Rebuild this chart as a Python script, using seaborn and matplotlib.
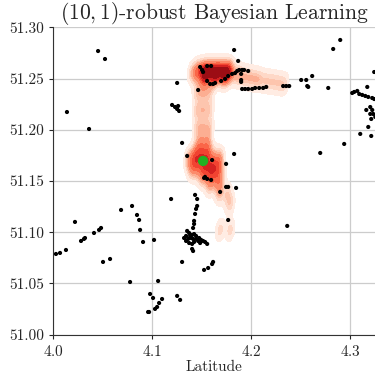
import numpy as np
import pandas as pd
import seaborn as sns
import matplotlib.pyplot as plt

obs_lon = [4.0455, 4.0525, 4.0141, 4.0364, 4.0222, 4.0687, 4.0798, 4.0414, 4.0465, 4.0485,
           4.0283, 4.0313, 4.0323, 4.0030, 4.0071, 4.0131, 4.0505, 4.0576, 4.0778, 4.0848,
           4.0869, 4.0879, 4.0909, 4.1020, 4.1192,
           4.1434, 4.1455, 4.1455, 4.1444, 4.1434, 4.1424, 4.1424, 4.1414,
           4.1354, 4.1374, 4.1343, 4.1384, 4.1404, 4.1424, 4.1444, 4.1323, 4.1364, 4.1394,
           4.1414, 4.1444, 4.1475, 4.1495, 4.1515, 4.1535, 4.1465, 4.1424, 4.1343, 4.1374,
           4.1404, 4.1556, 4.1485,
           4.1303, 4.1404, 4.1414, 4.1525, 4.1566, 4.1616, 4.1606,
           4.1061, 4.0980, 4.1010, 4.1101, 4.1071, 4.1051, 4.1030, 4.0970, 4.0960, 4.1253, 4.1283,
           4.1485, 4.1505, 4.1556, 4.1596, 4.1515, 4.1253, 4.1465, 4.1556, 4.1586, 4.1616,
           4.1202, 4.1232, 4.1253, 4.1273, 4.1263,
           4.1303, 4.1354, 4.1606, 4.1535, 4.1556, 4.1525, 4.1596, 4.1747, 4.1828, 4.1747,
           4.1768, 4.1848, 4.1687, 4.1768, 4.2364,
           4.1636, 4.1697, 4.1737, 4.1768, 4.1808, 4.1838, 4.1859, 4.1879, 4.1909, 4.1929,
           4.1899, 4.1899, 4.1899, 4.1970, 4.1828, 4.1869,
           4.1909, 4.1939, 4.1970, 4.2010, 4.2040, 4.2081, 4.2121, 4.2152, 4.2323, 4.2354, 4.2384,
           4.2505, 4.2556, 4.2616, 4.2566, 4.2576, 4.2778, 4.2828, 4.2899, 4.3242, 4.3172,
           4.3020, 4.3040, 4.3071, 4.3091, 4.3121, 4.3152, 4.3182, 4.3222, 4.3242,
           4.3202, 4.3222, 4.3232, 4.3202, 4.3162, 4.3253, 4.3212, 4.3182, 4.3101, 4.3212,
           4.2939, 4.2697]
obs_lat = [51.2770, 51.2692, 51.2174, 51.2008, 51.1100, 51.1217, 51.1256, 51.0992, 51.1022, 51.1041,
           51.0914, 51.0934, 51.0943, 51.0787, 51.0797, 51.0826, 51.0709, 51.0738, 51.0513, 51.1168,
           51.1119, 51.1022, 51.0904, 51.0924, 51.1324,
           51.1364, 51.1324, 51.1256, 51.1227, 51.1178, 51.1110, 51.1080, 51.1041,
           51.1012, 51.0992, 51.0963, 51.0963, 51.0973, 51.0982, 51.0963, 51.0943, 51.0934, 51.0943,
           51.0934, 51.0934, 51.0943, 51.0924, 51.0914, 51.0904, 51.0914, 51.0904, 51.0914, 51.0894,
           51.0885, 51.0885, 51.0894,
           51.0709, 51.0836, 51.0816, 51.0631, 51.0650, 51.0709, 51.0689,
           51.0523, 51.0396, 51.0357, 51.0347, 51.0308, 51.0269, 51.0250, 51.0220, 51.0220, 51.0377, 51.0338,
           51.2614, 51.2585, 51.2624, 51.2624, 51.2565, 51.2458, 51.2389, 51.2477, 51.2448, 51.2448,
           51.2243, 51.2223, 51.2204, 51.2184, 51.2233,
           51.1872, 51.1745, 51.1705, 51.1540, 51.1520, 51.1530, 51.1510, 51.1667, 51.1764, 51.1442,
           51.1442, 51.1432, 51.1393, 51.1119, 51.1061,
           51.2458, 51.2477, 51.2497, 51.2526, 51.2546, 51.2555, 51.2575, 51.2585, 51.2585, 51.2585,
           51.2546, 51.2487, 51.2468, 51.2575, 51.2780, 51.2673,
           51.2399, 51.2399, 51.2399, 51.2399, 51.2409, 51.2409, 51.2409, 51.2419, 51.2428, 51.2428, 51.2428,
           51.2487, 51.2487, 51.2526, 51.2428, 51.2419, 51.2409, 51.2790, 51.2878, 51.2565, 51.2419,
           51.2360, 51.2370, 51.2380, 51.2350, 51.2341, 51.2331, 51.2321, 51.2311, 51.2301,
           51.2223, 51.2194, 51.2155, 51.2155, 51.2194, 51.2126, 51.2106, 51.2028, 51.1960, 51.1940,
           51.1862, 51.1774]

# posterior samples behind the red density (ridge, column, main blob, faint blob)
post_lon = [4.1465, 4.1515, 4.1566, 4.1616, 4.1667, 4.1717, 4.1768,
            4.1444, 4.1495, 4.1545, 4.1596, 4.1646, 4.1697, 4.1747, 4.1798, 4.1848,
            4.1535, 4.1596, 4.1657, 4.1717, 4.1778,
            4.1889, 4.1939, 4.1990, 4.2040, 4.2091, 4.2152, 4.2212, 4.2273, 4.2333,
            4.1404,
            4.1535, 4.1636, 4.1737,
            4.1455, 4.1515, 4.1576, 4.1455, 4.1515, 4.1576, 4.1455, 4.1515, 4.1576,
            4.1485, 4.1556,
            4.1444, 4.1505, 4.1566,
            4.1374, 4.1434, 4.1495, 4.1556, 4.1616, 4.1677,
            4.1384, 4.1444, 4.1505, 4.1566, 4.1626, 4.1687,
            4.1414, 4.1475, 4.1535, 4.1596, 4.1657,
            4.1515, 4.1576, 4.1636, 4.1697,
            4.1586, 4.1667,
            4.1687, 4.1758,
            4.1788,
            4.1687, 4.1788]
post_lat = [51.2594, 51.2594, 51.2594, 51.2594, 51.2594, 51.2594, 51.2594,
            51.2546, 51.2546, 51.2546, 51.2546, 51.2546, 51.2546, 51.2546, 51.2546, 51.2546,
            51.2570, 51.2570, 51.2570, 51.2570, 51.2570,
            51.2526, 51.2516, 51.2507, 51.2497, 51.2487, 51.2477, 51.2468, 51.2458, 51.2448,
            51.2565,
            51.2497, 51.2497, 51.2497,
            51.2370, 51.2370, 51.2370, 51.2194, 51.2194, 51.2194, 51.2018, 51.2018, 51.2018,
            51.1881, 51.1881,
            51.1803, 51.1803, 51.1803,
            51.1735, 51.1735, 51.1735, 51.1735, 51.1735, 51.1735,
            51.1667, 51.1667, 51.1667, 51.1667, 51.1667, 51.1667,
            51.1598, 51.1598, 51.1598, 51.1598, 51.1598,
            51.1530, 51.1530, 51.1530, 51.1530,
            51.1452, 51.1452,
            51.1373, 51.1373,
            51.1276,
            51.1022, 51.1022]

# point estimate (green dot)
est_lon = [4.1515]
est_lat = [51.1696]

sns.set_style("ticks")
plt.rcParams['font.family'] = 'serif'
plt.rcParams['font.serif'] = ['cmr10']
plt.rcParams['mathtext.fontset'] = 'cm'
plt.rcParams['axes.formatter.use_mathtext'] = True
plt.rcParams['axes.unicode_minus'] = False

fig = plt.figure(figsize=(3.75, 3.73), dpi=100)
ax = fig.add_axes([0.1413, 0.1032, 0.8587, 0.8231])

sns.kdeplot(x=post_lon, y=post_lat, fill=True, cmap="Reds", levels=10, thresh=0.04,
            bw_adjust=0.32, gridsize=250, ax=ax, zorder=1)
sns.scatterplot(x=obs_lon, y=obs_lat, color='black', s=9, edgecolor='none', ax=ax, zorder=3)
sns.scatterplot(x=est_lon, y=est_lat, color='#22b022', s=55, edgecolor='none', ax=ax, zorder=4)

ax.set_xlim(4.0, 4.325)
ax.set_ylim(51.0, 51.3)
ax.set_xticks([4.0, 4.1, 4.2, 4.3])
ax.set_yticks([51.0, 51.05, 51.1, 51.15, 51.2, 51.25, 51.3])
ax.set_yticklabels(['51.00', '51.05', '51.10', '51.15', '51.20', '51.25', '51.30'])
ax.grid(True, color='#cccccc', linewidth=0.9)
ax.set_axisbelow(True)
ax.tick_params(labelsize=11, length=3, width=0.8)
ax.set_xlabel('Latitude', fontsize=11, labelpad=1)
ax.set_title('$(10,1)$-robust Bayesian Learning', fontsize=15.5, pad=3)
sns.despine(ax=ax)
for s in ['left', 'bottom']:
    ax.spines[s].set_color('#333333')

fig.savefig('out.png', dpi=100)
